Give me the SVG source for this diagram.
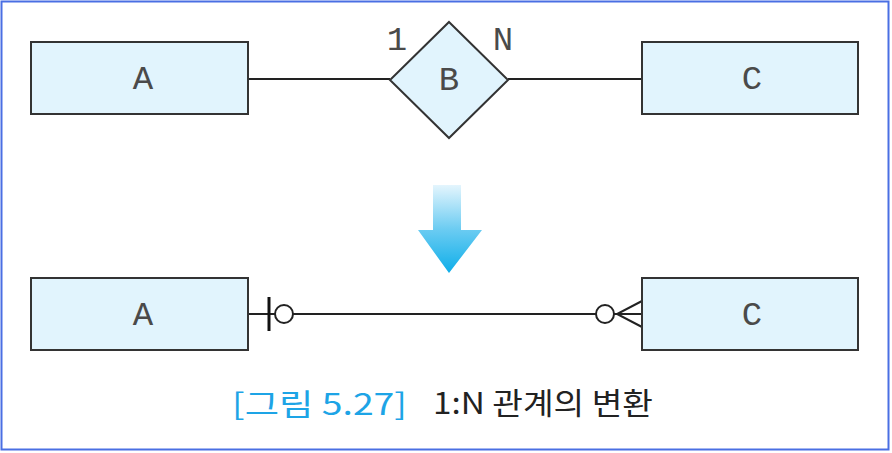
<svg xmlns="http://www.w3.org/2000/svg" width="892" height="453" viewBox="0 0 892 453">
<defs>
<style>
.box{fill:#e1f4fd;stroke:#333;stroke-width:2}
.lbl{font-family:"Liberation Mono","DejaVu Sans Mono",monospace;font-size:34px;fill:#4a4a4a;text-anchor:middle}
.ln{fill:none;stroke:#222;stroke-width:2}
.cap{font-family:"Noto Sans CJK KR","Noto Sans",sans-serif;font-size:30px}
</style>
<linearGradient id="ag" x1="0" y1="0" x2="0" y2="1">
<stop offset="0" stop-color="#e4f5fd"/>
<stop offset="0.5" stop-color="#6cccf2"/>
<stop offset="1" stop-color="#0eaee9"/>
</linearGradient>
</defs>
<rect x="1.5" y="1.5" width="887" height="448" fill="#fff" stroke="#4a6fe3" stroke-width="2"/>
<g id="connectors">
<line class="ln" x1="248" y1="79" x2="390" y2="79"/>
<line class="ln" x1="508" y1="79" x2="642" y2="79"/>
<line class="ln" x1="248" y1="314" x2="642" y2="314"/>
<line x1="269" y1="297" x2="269" y2="331" stroke="#111" stroke-width="3"/>
<circle cx="284" cy="314" r="9" fill="#fff" stroke="#222" stroke-width="2"/>
<circle cx="605" cy="314" r="9" fill="#fff" stroke="#222" stroke-width="2"/>
<path class="ln" d="M642 301 L617 314 L642 327 M617 314 L642 314"/>
</g>
<g id="nodeA1">
<rect class="box" x="31" y="42" width="217" height="72"/>
<text class="lbl" x="143" y="89">A</text>
</g>
<g id="nodeB">
<polygon class="box" points="449,22 508,80 449,138 390,80" stroke-width="2.5"/>
<text class="lbl" x="449" y="90">B</text>
<text class="lbl" x="397" y="50">1</text>
<text class="lbl" x="503" y="50">N</text>
</g>
<g id="nodeC1">
<rect class="box" x="642" y="42" width="216" height="72"/>
<text class="lbl" x="752" y="89">C</text>
</g>
<g id="arrow">
<path d="M433 185 H461 V230 H482 L449 273 L418 230 H433 Z" fill="url(#ag)"/>
</g>
<g id="nodeA2">
<rect class="box" x="31" y="278" width="217" height="72"/>
<text class="lbl" x="143" y="325">A</text>
</g>
<g id="nodeC2">
<rect class="box" x="642" y="278" width="216" height="72"/>
<text class="lbl" x="752" y="325">C</text>
</g>
<g id="caption">
<text class="cap" x="232" y="415" fill="#1da4e6" textLength="175" lengthAdjust="spacingAndGlyphs">[그림 5.27]</text>
<text class="cap" x="433" y="414" fill="#222" textLength="220" lengthAdjust="spacingAndGlyphs">1:N 관계의 변환</text>
</g>
</svg>
